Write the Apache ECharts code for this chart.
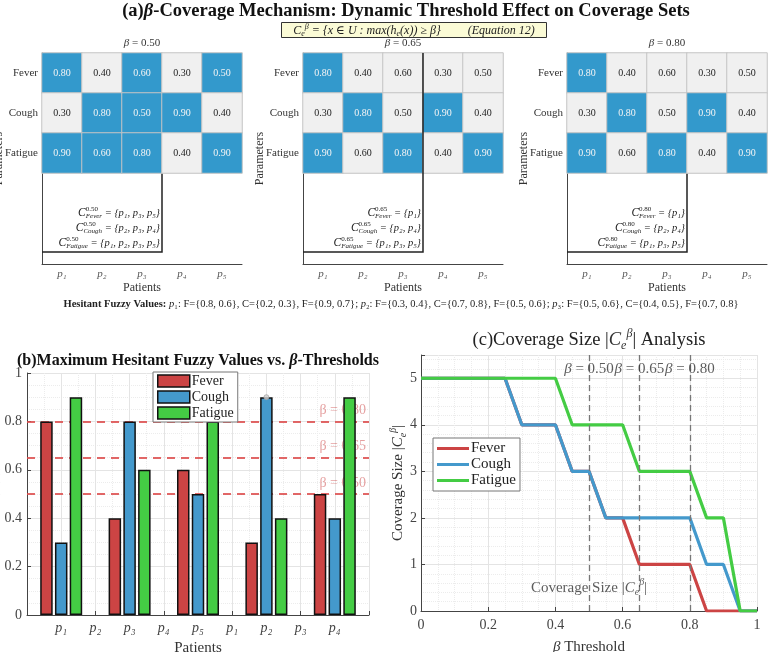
<!DOCTYPE html>
<html>
<head>
<meta charset="utf-8">
<script src="https://cdn.jsdelivr.net/npm/echarts@6/dist/echarts.min.js"></script>
<style>
  html, body { margin: 0; padding: 0; background: #fff; }
  #chart { width: 777px; height: 652px; }
</style>
</head>
<body>
<div id="chart"></div>
<script>
// ---- data ----
const patients = ['p₁', 'p₂', 'p₃', 'p₄', 'p₅'];
const params = ['Fever', 'Cough', 'Fatigue'];
const feverMax = [0.8, 0.4, 0.6, 0.3, 0.5];
const coughMax = [0.3, 0.8, 0.5, 0.9, 0.4];
const fatigueMax = [0.9, 0.6, 0.8, 0.4, 0.9];
const betas = [0.50, 0.65, 0.80];
const coverageSets = [
  ['{p₁, p₃, p₅}', '{p₂, p₃, p₄}', '{p₁, p₂, p₃, p₅}'],
  ['{p₁}', '{p₂, p₄}', '{p₁, p₃, p₅}'],
  ['{p₁}', '{p₂, p₄}', '{p₁, p₃, p₅}']
];
const hesitantPatients = ['₁', '₂', '₃'];
const hesitantF = [[0.8, 0.6], [0.3, 0.4], [0.5, 0.6]];
const hesitantC = [[0.2, 0.3], [0.7, 0.8], [0.4, 0.5]];
const hesitantFa = [[0.9, 0.7], [0.5, 0.6], [0.7, 0.8]];

// panel (b)
const groupPos = [1, 2, 3, 4, 5];
const barTickLabels = ['p₁', 'p₂', 'p₃', 'p₄', 'p₅', 'p₁', 'p₂', 'p₃', 'p₄'];

// panel (c)
const betaGrid = [0, 0.05, 0.1, 0.15, 0.2, 0.25, 0.3, 0.35, 0.4, 0.45, 0.5,
  0.55, 0.6, 0.65, 0.7, 0.75, 0.8, 0.85, 0.9, 0.95, 1];
const feverSize = [5, 5, 5, 5, 5, 5, 4, 4, 4, 3, 3, 2, 2, 1, 1, 1, 1, 0, 0, 0, 0];
const coughSize = [5, 5, 5, 5, 5, 5, 4, 4, 4, 3, 3, 2, 2, 2, 2, 2, 2, 1, 1, 0, 0];
const fatigueSize = [5, 5, 5, 5, 5, 5, 5, 5, 5, 4, 4, 4, 4, 3, 3, 3, 3, 2, 2, 0, 0];

// ---- styling ----
const FONT = "'Liberation Serif','DejaVu Serif',serif";
const BLUE = '#3399cc';
const GRAY = '#f0f0f0';
const RED = '#cc4444';
const CBLUE = '#4499cc';
const GREEN = '#44cc44';
const AXIS = '#444';

const chart = echarts.init(document.getElementById('chart'));

const measureCtx = document.createElement('canvas').getContext('2d');
function textWidth(str, font) {
  measureCtx.font = font;
  return measureCtx.measureText(str).width;
}

const grids = [], xAxes = [], yAxes = [], series = [], titles = [], graphics = [];
const panelLeft = [42, 303, 567];
const matrix = [feverMax, coughMax, fatigueMax];

betas.forEach((beta, k) => {
  const left = panelLeft[k];
  const gh = grids.length;
  grids.push({ left, top: 53, width: 200, height: 120, outerBoundsMode: 'none' });
  grids.push({ left, top: 53, width: 200, height: 211, outerBoundsMode: 'none' });
  xAxes.push({ gridIndex: gh, type: 'category', data: patients, show: false });
  yAxes.push({
    gridIndex: gh, type: 'category', data: params, inverse: true,
    axisLine: { show: false }, axisTick: { show: false },
    axisLabel: { fontFamily: FONT, fontSize: 11, color: '#333', margin: 4 }
  });
  xAxes.push({
    gridIndex: gh + 1, type: 'category', data: patients,
    axisLine: { lineStyle: { color: AXIS, width: 1 } },
    axisTick: { inside: true, length: 3, alignWithLabel: true, lineStyle: { color: AXIS } },
    axisLabel: { fontFamily: FONT, fontStyle: 'italic', fontSize: 11, color: '#555', margin: 5 },
    name: 'Patients', nameLocation: 'middle', nameGap: 18, nameMoveOverlap: false,
    nameTextStyle: { fontFamily: FONT, fontSize: 12, color: '#333' }
  });
  yAxes.push({
    gridIndex: gh + 1, type: 'value', min: 0, max: 1,
    axisLine: { show: true, lineStyle: { color: AXIS, width: 1 } },
    axisLabel: { show: false }, axisTick: { show: false }, splitLine: { show: false },
    name: 'Parameters', nameLocation: 'middle', nameGap: 37, nameMoveOverlap: false,
    nameTextStyle: { fontFamily: FONT, fontSize: 12, color: '#333' }
  });
  const data = [];
  matrix.forEach((row, r) => row.forEach((v, c) => {
    const hit = v >= beta - 1e-9;
    data.push({
      value: [c, r, v],
      itemStyle: { color: hit ? BLUE : GRAY },
      label: { color: hit ? '#f4f4f4' : '#222' }
    });
  }));
  series.push({
    type: 'heatmap', xAxisIndex: gh, yAxisIndex: gh, data, z: 3,
    itemStyle: { borderColor: '#c4c4c4', borderWidth: 1 },
    label: { show: true, fontFamily: FONT, fontSize: 10, formatter: p => p.value[2].toFixed(2) }
  });
  titles.push({
    text: '{i|β} = ' + beta.toFixed(2), left: left + 100, textAlign: 'center', top: 38, padding: 0,
    textStyle: { fontFamily: FONT, fontSize: 11, fontWeight: 'normal', color: '#333',
      rich: { i: { fontFamily: FONT, fontStyle: 'italic', fontSize: 11, color: '#333' } } }
  });
  // coverage-set annotation box
  graphics.push({
    type: 'polyline', z: k === 1 ? 10 : 1,
    shape: { points: [[left + 120, k === 1 ? 53 : 172], [left + 120, 252], [left, 252]] },
    style: { stroke: '#222', lineWidth: 1.5, fill: null }
  });
  const beta2 = beta.toFixed(2);
  params.forEach((name, r) => {
    const xR = left + 118, y = 213 + r * 15;
    const rest = ' = ' + coverageSets[k][r];
    const mainFont = 'italic 10.5px ' + FONT;
    const smallFont = '7px ' + FONT;
    const subFont = 'italic 7px ' + FONT;
    const xS = xR - textWidth(rest, mainFont) - Math.max(textWidth(name, subFont), textWidth(beta2, smallFont));
    graphics.push({ type: 'text', z: 11, style: { x: xR, y, align: 'right', verticalAlign: 'middle', text: rest, font: mainFont, fill: '#222' } });
    graphics.push({ type: 'text', z: 11, style: { x: xS, y: y + 3, align: 'left', verticalAlign: 'middle', text: name, font: subFont, fill: '#222' } });
    graphics.push({ type: 'text', z: 11, style: { x: xS, y: y - 4, align: 'left', verticalAlign: 'middle', text: beta2, font: smallFont, fill: '#222' } });
    graphics.push({ type: 'text', z: 11, style: { x: xS, y, align: 'right', verticalAlign: 'middle', text: 'C', font: 'italic 11.5px ' + FONT, fill: '#222' } });
  });
});

// ---- panel (b) ----
const gb = grids.length;
grids.push({ left: 27, top: 373, width: 342, height: 242, outerBoundsMode: 'none' });
xAxes.push({
  gridIndex: gb, type: 'value', min: 0.5, max: 5.5, interval: 0.5,
  axisLine: { lineStyle: { color: AXIS } },
  axisTick: { inside: true, length: 4, lineStyle: { color: AXIS } },
  axisLabel: {
    fontFamily: FONT, fontStyle: 'italic', fontSize: 14, color: '#444', margin: 6,
    formatter: v => {
      const i = Math.round((v - 1) / 0.5);
      return (i >= 0 && i < barTickLabels.length) ? barTickLabels[i] : '';
    }
  },
  splitLine: { show: true, lineStyle: { color: '#e4e4e4' } },
  minorTick: { show: false, splitNumber: 2 },
  minorSplitLine: { show: true, lineStyle: { color: '#ececec', type: 'dotted' } },
  name: 'Patients', nameLocation: 'middle', nameGap: 26, nameMoveOverlap: false,
  nameTextStyle: { fontFamily: FONT, fontSize: 15, color: '#333' }
});
yAxes.push({
  gridIndex: gb, type: 'value', min: 0, max: 1, interval: 0.2,
  axisLine: { show: true, lineStyle: { color: AXIS } },
  axisTick: { show: true, inside: true, length: 4, lineStyle: { color: AXIS } },
  axisLabel: { fontFamily: FONT, fontSize: 14, color: '#444', margin: 5 },
  splitLine: { show: true, lineStyle: { color: '#e4e4e4' } },
  minorTick: { show: false, splitNumber: 4 },
  minorSplitLine: { show: true, lineStyle: { color: '#ececec', type: 'dotted' } },
  name: 'max(h(x))', nameLocation: 'middle', nameGap: 27, nameMoveOverlap: false,
  nameTextStyle: { fontFamily: FONT, fontSize: 14, color: '#333' }
});
const barStyle = color => ({ color, borderColor: '#111', borderWidth: 1.5 });
series.push({
  type: 'bar', name: 'Fever', xAxisIndex: gb, yAxisIndex: gb, barWidth: 12.5, barGap: '18%',
  itemStyle: barStyle(RED), data: groupPos.map((x, i) => [x, feverMax[i]]),
  markLine: {
    silent: true, symbol: 'none', z: 1,
    lineStyle: { color: '#dd4c4c', width: 2, type: [8, 6], opacity: 0.85 },
    label: { position: 'insideEndTop', distance: [3, 4], fontFamily: FONT, fontSize: 14,
      color: 'rgba(204,68,68,0.6)', formatter: p => 'β = ' + p.value.toFixed(2) },
    data: betas.map(b => ({ yAxis: b }))
  }
});
series.push({
  type: 'bar', name: 'Cough', xAxisIndex: gb, yAxisIndex: gb, barWidth: 12.5, barGap: '18%',
  itemStyle: barStyle(CBLUE), data: groupPos.map((x, i) => [x, coughMax[i]])
});
series.push({
  type: 'bar', name: 'Fatigue', xAxisIndex: gb, yAxisIndex: gb, barWidth: 12.5, barGap: '18%',
  itemStyle: barStyle(GREEN), data: groupPos.map((x, i) => [x, fatigueMax[i]])
});
series.push({
  type: 'scatter', xAxisIndex: gb, yAxisIndex: gb, symbolSize: 5, z: 5,
  itemStyle: { color: '#d0d0d0', borderColor: '#999', borderWidth: 0.8 },
  data: [[groupPos[3], coughMax[3]]]
});

// ---- panel (c) ----
const gc = grids.length;
grids.push({ left: 421, top: 355, width: 336, height: 256, outerBoundsMode: 'none' });
const supSub = size => ({
  i: { fontFamily: FONT, fontSize: size, fontStyle: 'italic', color: '#333', lineHeight: size + 5 },
  sp: { fontFamily: FONT, fontSize: Math.round(size * 0.66), fontStyle: 'italic', verticalAlign: 'top', lineHeight: size + 5, color: '#333' },
  sb: { fontFamily: FONT, fontSize: Math.round(size * 0.66), fontStyle: 'italic', verticalAlign: 'bottom', lineHeight: size + 5, color: '#333' }
});
xAxes.push({
  gridIndex: gc, type: 'value', min: 0, max: 1, interval: 0.2,
  axisLine: { lineStyle: { color: AXIS } },
  axisTick: { inside: true, length: 4, lineStyle: { color: AXIS } },
  axisLabel: { fontFamily: FONT, fontSize: 14, color: '#444', margin: 7 },
  splitLine: { show: true, lineStyle: { color: '#e4e4e4' } },
  minorTick: { show: false, splitNumber: 4 },
  minorSplitLine: { show: true, lineStyle: { color: '#ececec', type: 'dotted' } },
  name: '{i|β} Threshold', nameLocation: 'middle', nameGap: 26, nameMoveOverlap: false,
  nameTextStyle: { fontFamily: FONT, fontSize: 15, color: '#333', rich: supSub(15) }
});
yAxes.push({
  gridIndex: gc, type: 'value', min: 0, max: 5.5, interval: 1,
  axisLine: { show: true, lineStyle: { color: AXIS } },
  axisTick: { show: true, inside: true, length: 4, lineStyle: { color: AXIS } },
  axisLabel: { fontFamily: FONT, fontSize: 14, color: '#444', margin: 4,
    formatter: v => Number.isInteger(v) ? String(v) : '' },
  splitLine: { show: true, lineStyle: { color: '#e4e4e4' } },
  minorTick: { show: false, splitNumber: 5 },
  minorSplitLine: { show: true, lineStyle: { color: '#ececec', type: 'dotted' } },
  name: 'Coverage Size |{i|C}{sb|e}{sp|β}|', nameLocation: 'middle', nameGap: 13, nameMoveOverlap: false,
  nameTextStyle: { fontFamily: FONT, fontSize: 15, color: '#333', rich: supSub(15) }
});
const lineSeries = (name, color, vals) => ({
  type: 'line', name, xAxisIndex: gc, yAxisIndex: gc, showSymbol: false,
  lineStyle: { color, width: 3.2 }, itemStyle: { color },
  data: betaGrid.map((b, i) => [b, vals[i]])
});
const feverLine = lineSeries('Fever', RED, feverSize);
feverLine.markLine = {
  silent: true, symbol: 'none',
  lineStyle: { color: '#777', width: 1.3, type: [6, 4] },
  label: { show: false },
  data: betas.map(b => ({ xAxis: b }))
};
series.push(feverLine);
series.push(lineSeries('Cough', CBLUE, coughSize));
series.push(lineSeries('Fatigue', GREEN, fatigueSize));
series.push({
  type: 'scatter', xAxisIndex: gc, yAxisIndex: gc, symbolSize: 0, silent: true, z: 6,
  data: betas.map(b => [b, 5.2]),
  label: { show: true, position: 'inside', fontFamily: FONT, fontSize: 15, color: '#333',
    formatter: p => '{i|β} = ' + p.value[0].toFixed(2), rich: supSub(15) }
});
series.push({
  type: 'scatter', xAxisIndex: gc, yAxisIndex: gc, symbolSize: 0, silent: true, z: 6,
  data: [[0.5, 0.5]],
  label: { show: true, position: 'inside', fontFamily: FONT, fontSize: 15, color: '#333',
    formatter: 'Coverage Size |{i|C}{sb|e}{sp|β}|', rich: supSub(15) }
});

// ---- titles ----
titles.push({
  text: '{n|(a)}{g|β}{b|-Coverage Mechanism: Dynamic Threshold Effect on Coverage Sets}',
  left: 406, textAlign: 'center', top: 2, padding: 0,
  textStyle: { rich: {
    n: { fontFamily: FONT, fontSize: 18.5, color: '#111' },
    g: { fontFamily: FONT, fontSize: 18.5, fontStyle: 'italic', color: '#111' },
    b: { fontFamily: FONT, fontSize: 18.5, fontWeight: 'bold', color: '#111' }
  } }
});
titles.push({
  text: '{c|C}{sb|e}{sp|β} = {x ∈ U : max(h{sb|e}(x)) ≥ {c|β}}         (Equation 12)',
  left: 402, textAlign: 'center', top: 22,
  backgroundColor: '#fbfbd6', borderColor: '#333', borderWidth: 1, padding: [1, 12, 0, 12],
  textStyle: { fontFamily: FONT, fontSize: 12, fontStyle: 'italic', fontWeight: 'normal', color: '#222',
    rich: {
      c: { fontFamily: FONT, fontStyle: 'italic', fontSize: 12, lineHeight: 15, color: '#222' },
      sp: { fontFamily: FONT, fontSize: 8, fontStyle: 'italic', verticalAlign: 'top', lineHeight: 15, color: '#222' },
      sb: { fontFamily: FONT, fontSize: 8, fontStyle: 'italic', verticalAlign: 'bottom', lineHeight: 15, color: '#222' }
    } }
});
const fmtPair = a => '{' + a.map(v => v.toFixed(1)).join(', ') + '}';
const hesitantText = '{b|Hesitant Fuzzy Values:} ' + hesitantPatients.map((s, i) =>
  '{i|p}' + s + ': F=' + fmtPair(hesitantF[i]) + ', C=' + fmtPair(hesitantC[i]) + ', F=' + fmtPair(hesitantFa[i])
).join('; ');
titles.push({
  text: hesitantText, left: 401, textAlign: 'center', top: 299, padding: 0,
  textStyle: { fontFamily: FONT, fontSize: 10.5, fontWeight: 'normal', color: '#222',
    rich: {
      b: { fontFamily: FONT, fontSize: 10.5, fontWeight: 'bold', color: '#222' },
      i: { fontFamily: FONT, fontSize: 10.5, fontStyle: 'italic', color: '#222' }
    } }
});
titles.push({
  text: '{n|(b)}{b|Maximum Hesitant Fuzzy Values vs. }{g|β}{b|-Thresholds}',
  left: 17, top: 353, padding: 0,
  textStyle: { rich: {
    n: { fontFamily: FONT, fontSize: 16, color: '#111' },
    g: { fontFamily: FONT, fontSize: 16, fontStyle: 'italic', color: '#111' },
    b: { fontFamily: FONT, fontSize: 16, fontWeight: 'bold', color: '#111' }
  } }
});
titles.push({
  text: '(c)Coverage Size |{i|C}{sb|e}{sp|β}| Analysis',
  left: 589, textAlign: 'center', top: 328, padding: 0,
  textStyle: { fontFamily: FONT, fontSize: 18.5, fontWeight: 'normal', color: '#222', rich: supSub(18.5) }
});

chart.setOption({
  animation: false,
  backgroundColor: '#fff',
  title: titles,
  grid: grids,
  xAxis: xAxes,
  yAxis: yAxes,
  legend: [
    {
      left: 153, top: 372, orient: 'vertical', itemGap: 2, itemWidth: 32, itemHeight: 12,
      backgroundColor: '#fff', borderColor: '#777', borderWidth: 1, padding: [2, 4, 2, 4],
      selectedMode: false,
      textStyle: { fontFamily: FONT, fontSize: 14, color: '#222', padding: [0, 0, 0, -3] },
      data: [
        { name: 'Fever', icon: 'rect', itemStyle: { color: RED, borderColor: '#111', borderWidth: 1.5 } },
        { name: 'Cough', icon: 'rect', itemStyle: { color: CBLUE, borderColor: '#111', borderWidth: 1.5 } },
        { name: 'Fatigue', icon: 'rect', itemStyle: { color: GREEN, borderColor: '#111', borderWidth: 1.5 } }
      ]
    },
    {
      left: 433, top: 438, orient: 'vertical', itemGap: 1, itemWidth: 32, itemHeight: 3,
      backgroundColor: '#fff', borderColor: '#777', borderWidth: 1, padding: [3, 4, 3, 4],
      selectedMode: false,
      textStyle: { fontFamily: FONT, fontSize: 15, color: '#222', lineHeight: 15, padding: [0, 0, 0, -3] },
      data: [
        { name: 'Fever', icon: 'rect', itemStyle: { color: RED, borderWidth: 0 } },
        { name: 'Cough', icon: 'rect', itemStyle: { color: CBLUE, borderWidth: 0 } },
        { name: 'Fatigue', icon: 'rect', itemStyle: { color: GREEN, borderWidth: 0 } }
      ]
    }
  ],
  series,
  graphic: graphics
});
</script>
</body>
</html>
